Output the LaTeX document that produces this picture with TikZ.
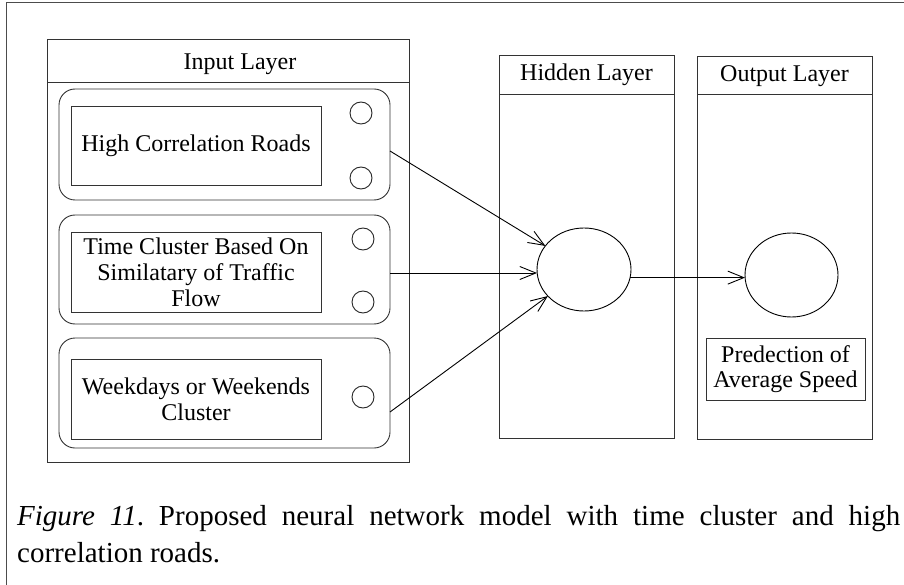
\documentclass[tikz,border=0pt]{standalone}
\usepackage{fontspec}
\setmainfont{Liberation Serif}
\usetikzlibrary{arrows.meta,shapes.geometric}
\frenchspacing
\begin{document}
\begin{tikzpicture}[x=1pt,y=-1pt,
 box/.style={draw=black!80,line width=0.9pt,inner sep=0pt,outer sep=0pt,rectangle},
 lbl/.style={font=\fontsize{24}{26}\selectfont,align=center,inner sep=0pt},
 rbox/.style={box,rounded corners=16pt},
 txtbox/.style={box,font=\fontsize{24}{26}\selectfont,align=center},
 neuron/.style={draw=black!85,line width=0.9pt,circle,minimum size=22pt,inner sep=0pt,outer sep=0pt},
 bigneuron/.style={draw=black,line width=0.9pt,ellipse,inner sep=0pt,outer sep=0pt},
 conn/.style={draw=black,line width=0.9pt,-{Straight Barb[length=16pt,width=13pt]}}]
\useasboundingbox (0,0) rectangle (904,585);
\draw[black!70,line width=1pt] (6,585) -- (6,3) -- (904,3);

% layers
\node[box,minimum width=362pt,minimum height=423pt] (inL) at (228,250.5) {};
\draw[box] ([yshift=-43pt]inL.north west) -- ([yshift=-43pt]inL.north east);
\node[lbl] (inT) at (240,64) {Input Layer};

\node[box,minimum width=175pt,minimum height=383pt] (hidL) at (586.5,246.5) {};
\draw[box] ([yshift=-39pt]hidL.north west) -- ([yshift=-39pt]hidL.north east);
\node[lbl] (hidT) at (586.5,75) {Hidden Layer};

\node[box,minimum width=175pt,minimum height=383pt] (outL) at (784.5,247.5) {};
\draw[box] ([yshift=-38pt]outL.north west) -- ([yshift=-38pt]outL.north east);
\node[lbl] (outT) at (784.5,76) {Output Layer};

% input groups
\node[rbox,minimum width=331pt,minimum height=111pt] (r1) at (224.5,144.5) {};
\node[rbox,minimum width=331pt,minimum height=109pt] (r2) at (224.5,269.5) {};
\node[rbox,minimum width=331pt,minimum height=110pt] (r3) at (224.5,393) {};

\node[txtbox,minimum width=250pt,minimum height=79pt] (t1) at (196,145.5) {High Correlation Roads};
\node[txtbox,minimum width=250pt,minimum height=80pt] (t2) at (196,272) {\raisebox{-2pt}{\parbox{250pt}{\centering Time Cluster Based On\\Similatary of Traffic\\Flow}}};
\node[txtbox,minimum width=250pt,minimum height=80pt] (t3) at (196,399) {Weekdays or Weekends\\Cluster};

\node[neuron] (c1a) at (361,113) {};
\node[neuron] (c1b) at (361,178) {};
\node[neuron] (c2a) at (363,239) {};
\node[neuron] (c2b) at (363,302) {};
\node[neuron] (c3) at (363,397) {};

% hidden and output neurons
\node[bigneuron,minimum width=94pt,minimum height=83pt] (hid) at (584,269.5) {};
\node[bigneuron,minimum width=93pt,minimum height=84pt] (out) at (791.5,275) {};
\node[txtbox,minimum width=159pt,minimum height=62pt,font=\fontsize{24}{25}\selectfont] (pred) at (785.5,369) {Predection of\\Average Speed};

% connectors
\draw[conn] ([yshift=-6.5pt]r1.east) -- (hid);
\draw[conn] ([yshift=-3.5pt]r2.east) -- ([yshift=-3.5pt]r2.east -| hid.west);
\draw[conn] ([yshift=-19pt]r3.east) -- (hid);
\draw[conn] (hid.-10) -- (hid.-10 -| out.west);

% caption
\node[anchor=base west,inner sep=0pt,font=\fontsize{29}{38}\selectfont] (cap1) at (17,525)
 {\makebox[883pt][s]{\textit{Figure 11}. Proposed neural network model with time cluster and high}};
\node[anchor=base west,inner sep=0pt,font=\fontsize{29}{38}\selectfont] (cap2) at (17,562)
 {correlation roads.};
\end{tikzpicture}
\end{document}
